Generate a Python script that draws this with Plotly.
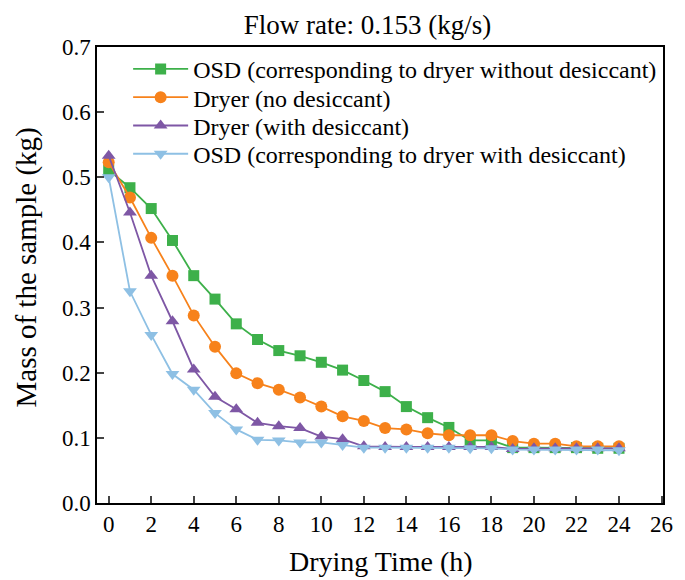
import plotly.graph_objects as go

hours = list(range(0, 25))

osd_no_desiccant = [0.511, 0.484, 0.452, 0.403, 0.349, 0.313, 0.275, 0.251, 0.234, 0.226,
                    0.216, 0.204, 0.188, 0.171, 0.148, 0.131, 0.116, 0.096, 0.096, 0.085,
                    0.085, 0.085, 0.085, 0.084, 0.084]
dryer_no_desiccant = [0.523, 0.469, 0.407, 0.349, 0.288, 0.240, 0.199, 0.184, 0.174, 0.162,
                      0.148, 0.133, 0.126, 0.115, 0.113, 0.107, 0.104, 0.104, 0.104, 0.095,
                      0.091, 0.091, 0.087, 0.087, 0.087]
dryer_with_desiccant = [0.533, 0.446, 0.349, 0.279, 0.205, 0.163, 0.144, 0.123, 0.118, 0.115,
                        0.102, 0.098, 0.087, 0.086, 0.086, 0.086, 0.086, 0.086, 0.086, 0.083,
                        0.084, 0.084, 0.084, 0.084, 0.084]
osd_with_desiccant = [0.500, 0.325, 0.258, 0.198, 0.174, 0.138, 0.113, 0.097, 0.096, 0.093,
                      0.093, 0.089, 0.085, 0.085, 0.085, 0.085, 0.085, 0.084, 0.084, 0.082,
                      0.082, 0.082, 0.082, 0.082, 0.081]

names = ["OSD (corresponding to dryer without desiccant)", "Dryer (no desiccant)",
         "Dryer (with desiccant)", "OSD (corresponding to dryer with desiccant)"]
x_ticks = list(range(0, 27, 2))
y_ticks = [0.0, 0.1, 0.2, 0.3, 0.4, 0.5, 0.6, 0.7]

series = [osd_no_desiccant, dryer_no_desiccant, dryer_with_desiccant, osd_with_desiccant]
colors = ["#3DB04A", "#F7821B", "#7E57A5", "#8EC0E4"]
symbols = ["square", "circle", "triangle-up", "triangle-down"]
sizes = [11, 12, 12, 12]
legend_ids = ["legend", "legend2", "legend3", "legend4"]
legend_y = [0.951, 0.889, 0.827, 0.765]

FONT = "Liberation Serif, Times New Roman, serif"

fig = go.Figure()
for ys, name, c, s, sz, lid in zip(series, names, colors, symbols, sizes, legend_ids):
    fig.add_trace(go.Scatter(
        x=hours, y=ys, name=name, mode="lines+markers", legend=lid,
        line=dict(color=c, width=1.8),
        marker=dict(color=c, symbol=s, size=sz, line=dict(width=0)),
    ))

legend_common = dict(x=0.055, xanchor="left", yanchor="middle",
                      bgcolor="rgba(0,0,0,0)", font=dict(size=24), itemwidth=55)

fig.update_layout(
    width=685, height=580,
    margin=dict(l=89, r=30, t=39, b=85),
    paper_bgcolor="white", plot_bgcolor="white",
    font=dict(family=FONT, size=23, color="black"),
    title=dict(text="Flow rate: 0.153 (kg/s)", x=359.5 / 685, xref="container",
               xanchor="center", y=0.972, yanchor="middle", font=dict(size=27)),
    showlegend=True,
    legend=dict(y=legend_y[0], **legend_common),
    legend2=dict(y=legend_y[1], **legend_common),
    legend3=dict(y=legend_y[2], **legend_common),
    legend4=dict(y=legend_y[3], **legend_common),
    annotations=[
        dict(text="Drying Time (h)", xref="paper", yref="paper", x=0.502, y=-0.128,
             xanchor="center", yanchor="middle", showarrow=False, font=dict(size=28)),
        dict(text="Mass of the sample (kg)", xref="paper", yref="paper", x=-0.124, y=0.516,
             xanchor="center", yanchor="middle", textangle=-90, showarrow=False,
             font=dict(size=29)),
    ],
)
fig.update_xaxes(
    range=[-0.55, 26.07], tickvals=x_ticks, ticks="inside", ticklen=7, tickwidth=1.5,
    showline=True, linecolor="black", linewidth=1.5, mirror=True, showgrid=False,
    zeroline=False, tickfont=dict(size=23),
)
fig.update_yaxes(
    range=[0, 0.7], tickvals=y_ticks, tickformat=".1f", ticks="inside", ticklen=7,
    tickwidth=1.5, showline=True, linecolor="black", linewidth=1.5, mirror=True,
    showgrid=False, zeroline=False, tickfont=dict(size=23),
)

fig.write_html("out.html")
